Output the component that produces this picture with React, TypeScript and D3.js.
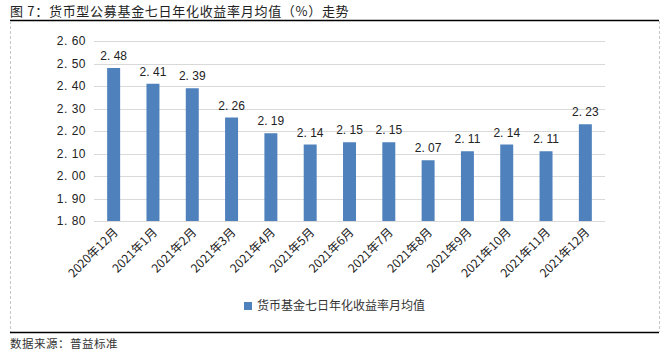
import React from 'react';
import * as d3 from 'd3';

const months = [
  '2020年12月', '2021年1月', '2021年2月', '2021年3月', '2021年4月', '2021年5月', '2021年6月',
  '2021年7月', '2021年8月', '2021年9月', '2021年10月', '2021年11月', '2021年12月',
];
const yields = [2.48, 2.41, 2.39, 2.26, 2.19, 2.14, 2.15, 2.15, 2.07, 2.11, 2.14, 2.11, 2.23];
const yTicks = [1.8, 1.9, 2.0, 2.1, 2.2, 2.3, 2.4, 2.5, 2.6];

const title = '图 7：货币型公募基金七日年化收益率月均值（%）走势';
const seriesName = '货币基金七日年化收益率月均值';
const source = '数据来源：普益标准';

const width = 667;
const height = 354;
const plot = { left: 94, right: 605, top: 41, bottom: 221 };
const barColor = '#4F81BD';
const gridColor = '#d9d9d9';
const cjk = '"Noto Sans CJK SC", sans-serif';
const latin = '"Liberation Sans", Arial, sans-serif';

const App: React.FC = () => {
  const x = d3.scaleBand<string>()
    .domain(months)
    .range([plot.left, plot.right])
    .paddingInner(0.67)
    .paddingOuter(0.335);

  const y = d3.scaleLinear()
    .domain([1.8, 2.6])
    .range([plot.bottom, plot.top]);

  const fmt = d3.format('.2f');

  return (
    <div style={{ position: 'absolute', left: 0, top: 0 }}>
      <svg width={width} height={height} style={{ display: 'block', background: '#fff' }}>
        {/* title */}
        <text x={10} y={16} fontSize={13} fill="#222" fontFamily={cjk} letterSpacing={0.7}>{title}</text>
        <line x1={10} x2={659} y1={20.5} y2={20.5} stroke="#000" strokeWidth={1.5} />

        {/* dashed frame */}
        <line x1={10.5} x2={10.5} y1={21} y2={332} stroke="#c8c8c8" strokeDasharray="3,2" />
        <line x1={659.5} x2={659.5} y1={21} y2={332} stroke="#c8c8c8" strokeDasharray="3,2" />

        {/* grid */}
        {yTicks.map(t => (
          <g key={t}>
            <line x1={plot.left} x2={plot.right} y1={Math.round(y(t)) + 0.5} y2={Math.round(y(t)) + 0.5}
              stroke={gridColor} strokeWidth={1} />
            <text x={86} y={y(t) + 4} textAnchor="end" fontSize={12} fill="#222" fontFamily={latin}
              letterSpacing={0.5}>
              {fmt(t).replace('.', '. ')}
            </text>
          </g>
        ))}

        {/* bars */}
        {months.map((m, i) => (
          <g key={m}>
            <rect x={x(m)} y={y(yields[i])} width={x.bandwidth()} height={plot.bottom - y(yields[i])}
              fill={barColor} />
            <text x={(x(m) || 0) + x.bandwidth() / 2} y={y(yields[i]) - 8} textAnchor="middle"
              fontSize={12} fill="#222" fontFamily={latin}>
              {fmt(yields[i]).replace('.', '. ')}
            </text>
          </g>
        ))}

        {/* x labels */}
        {months.map(m => {
          const cx = (x(m) || 0) + x.bandwidth() / 2 + 5;
          const cy = plot.bottom + 12;
          return (
            <text key={m} transform={`translate(${cx},${cy}) rotate(-45)`} textAnchor="end"
              fontSize={12} fill="#222" fontFamily={cjk}>
              {m}
            </text>
          );
        })}

        {/* legend */}
        <rect x={244} y={302} width={8} height={8} fill={barColor} />
        <text x={257} y={310} fontSize={12} fill="#333" fontFamily={cjk}>{seriesName}</text>

        {/* bottom rule and source */}
        <line x1={10} x2={659} y1={332.5} y2={332.5} stroke="#000" strokeWidth={1.5} />
        <text x={10} y={348} fontSize={11.5} fill="#333" fontFamily={cjk} letterSpacing={0.5}>{source}</text>
      </svg>
    </div>
  );
};

export default App;
